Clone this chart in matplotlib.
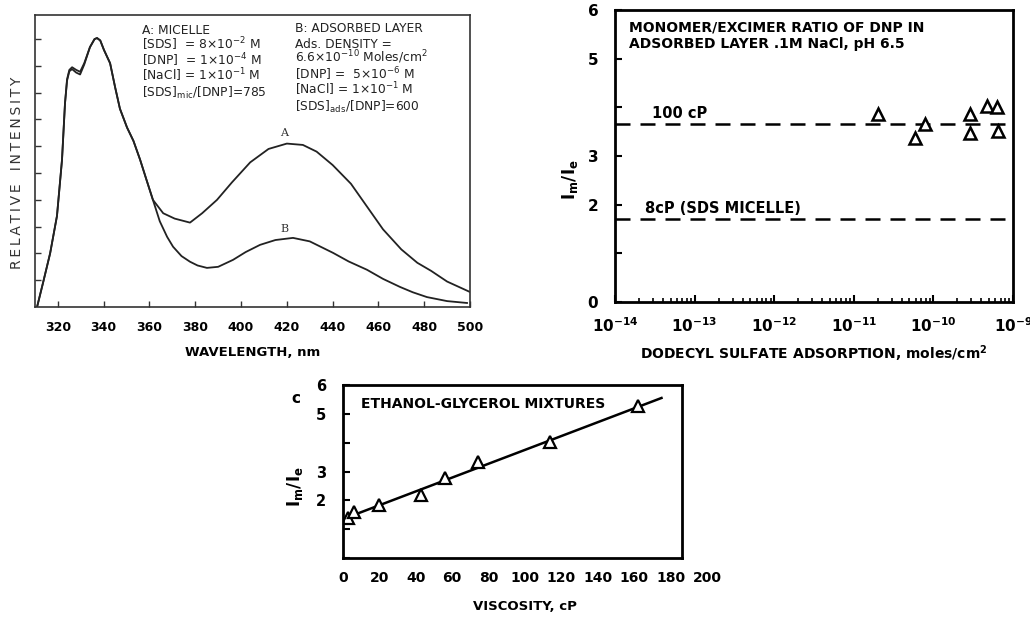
import matplotlib
matplotlib.use("Agg")
import matplotlib.pyplot as plt
from matplotlib.ticker import FixedLocator, LogLocator, NullFormatter
import numpy as np

plt.rcParams['font.family'] = ['DejaVu Sans']
plt.rcParams['mathtext.default'] = 'regular'

# ---------------- Panel A: spectra ----------------
wl_a = [310.9, 313.5, 316.6, 319.6, 321.8, 323.1, 324.0, 325.0, 326.2, 328.0, 329.7,
        331.5, 334.0, 336.0, 337.1, 338.5, 340.1, 342.8, 345.0, 347.1, 350.2, 353.0,
        355.9, 358.5, 361.5, 366.0, 371.0, 377.7, 383.0, 389.5, 396.0, 404.0, 412.0,
        420.0, 427.0, 433.0, 440.0, 448.0, 455.0, 462.0, 470.0, 477.0, 483.0, 490.0, 500.0]
int_a = [0.0, 0.9, 2.0, 3.4, 5.5, 7.6, 8.5, 8.85, 8.95, 8.85, 8.78,
         9.1, 9.7, 10.0, 10.04, 9.95, 9.6, 9.1, 8.2, 7.4, 6.7, 6.2,
         5.5, 4.8, 4.0, 3.5, 3.3, 3.15, 3.5, 4.0, 4.65, 5.4, 5.9,
         6.1, 6.05, 5.8, 5.3, 4.6, 3.75, 2.9, 2.15, 1.65, 1.35, 0.95, 0.56]
wl_b = [310.9, 313.5, 316.6, 319.6, 321.8, 323.1, 324.0, 325.0, 326.2, 328.0, 329.7,
        331.5, 334.0, 336.0, 337.1, 338.5, 340.1, 342.8, 345.0, 347.1, 350.2, 353.0,
        355.9, 358.5, 361.5, 364.5, 367.7, 370.3, 374.0, 377.7, 381.0, 385.1, 390.0,
        396.5, 402.0, 408.3, 415.0, 422.7, 430.0, 440.2, 447.0, 455.0, 462.0, 469.4,
        475.0, 481.2, 490.0, 498.7]
int_b = [0.0, 0.9, 2.0, 3.4, 5.5, 7.6, 8.45, 8.8, 8.88, 8.75, 8.68,
         9.05, 9.7, 10.0, 10.04, 9.95, 9.6, 9.1, 8.2, 7.4, 6.7, 6.2,
         5.5, 4.8, 4.0, 3.2, 2.62, 2.25, 1.9, 1.69, 1.55, 1.46, 1.5,
         1.76, 2.05, 2.32, 2.5, 2.58, 2.45, 2.02, 1.7, 1.39, 1.05, 0.75,
         0.55, 0.37, 0.22, 0.15]
xticks_a = [320, 340, 360, 380, 400, 420, 440, 460, 480, 500]
yticks_a = [1, 2, 3, 4, 5, 6, 7, 8, 9, 10]
legend_a = ['A: MICELLE',
            '[SDS]  = 8$\\times$10$^{-2}$ M',
            '[DNP]  = 1$\\times$10$^{-4}$ M',
            '[NaCl] = 1$\\times$10$^{-1}$ M',
            '[SDS]$_{mic}$/[DNP]=785']
legend_b = ['B: ADSORBED LAYER',
            'Ads. DENSITY =',
            '6.6$\\times$10$^{-10}$ Moles/cm$^2$',
            '[DNP] =  5$\\times$10$^{-6}$ M',
            '[NaCl] = 1$\\times$10$^{-1}$ M',
            '[SDS]$_{ads}$/[DNP]=600']

# ---------------- Panel B: adsorbed layer ----------------
ads_density = [2.0e-11, 5.9e-11, 7.8e-11, 2.9e-10, 2.9e-10, 4.7e-10, 6.3e-10, 6.5e-10]
ratio_ads = [3.86, 3.37, 3.65, 3.86, 3.47, 4.02, 4.0, 3.51]
ref_100cp = 3.65
ref_8cp = 1.71
yticks_b = [0, 1, 2, 3, 4, 5, 6]
ylabels_b = ['0', '', '2', '3', '', '5', '6']
xdecades_b = [1e-14, 1e-13, 1e-12, 1e-11, 1e-10, 1e-9]
xlabels_b = [r'$\mathbf{10^{-14}}$', r'$\mathbf{10^{-13}}$', r'$\mathbf{10^{-12}}$',
             r'$\mathbf{10^{-11}}$', r'$\mathbf{10^{-10}}$', r'$\mathbf{10^{-9}}$']

# ---------------- Panel C: viscosity ----------------
viscosity = [3, 6, 20, 43, 56, 74, 114, 162]
ratio_visc = [1.4, 1.6, 1.83, 2.2, 2.79, 3.34, 4.03, 5.28]
fit_x = [0, 175]
fit_y = [1.35, 5.55]
xticks_c = [0, 20, 40, 60, 80, 100, 120, 140, 160, 180, 200]
yticks_c = [0, 1, 2, 3, 4, 5, 6]
ylabels_c = ['', '', '2', '3', '', '5', '6']

W, H = 1030, 618
fig = plt.figure(figsize=(W / 100, H / 100), dpi=100)


def rect(l, r, t, b):
    return [l / W, 1 - b / H, (r - l) / W, (b - t) / H]


# ---- Panel A ----
axA = fig.add_axes(rect(35, 470, 15, 307))
axA.plot(wl_a, int_a, color='#222222', lw=1.3)
axA.plot(wl_b, int_b, color='#222222', lw=1.3)
axA.set_xlim(310, 500)
axA.set_ylim(0, 10.9)
axA.set_xticks(xticks_a)
axA.set_xticklabels([str(v) for v in xticks_a], fontweight='bold', fontsize=9)
axA.set_yticks(yticks_a)
axA.set_yticklabels([])
axA.tick_params(direction='in', length=4, width=1, pad=10, color='#333333')
for s in axA.spines.values():
    s.set_linewidth(1.2)
    s.set_color('#333333')
axA.set_xlabel('WAVELENGTH, nm', fontweight='bold', fontsize=9.5, labelpad=9)
thin = '\u2009'
axA.set_ylabel(thin.join('RELATIVE') + '   ' + thin.join('INTENSITY'), fontsize=10,
               color='#333333')
axA.yaxis.set_label_coords(-0.025, 0.46)
axA.text(419, 6.5, 'A', fontsize=8, family='DejaVu Serif', ha='center', va='center',
         color='#333333')
axA.text(419, 2.92, 'B', fontsize=8, family='DejaVu Serif', ha='center', va='center',
         color='#333333')
for line, yy in zip(legend_a, [0.935, 0.882, 0.829, 0.776, 0.719]):
    axA.text(0.246, yy, line, transform=axA.transAxes, fontsize=8.8, va='baseline',
             ha='left', color='#222222')
for line, yy in zip(legend_b, [0.942, 0.887, 0.839, 0.781, 0.729, 0.671]):
    axA.text(0.598, yy, line, transform=axA.transAxes, fontsize=8.8, va='baseline',
             ha='left', color='#222222')

# ---- Panel B ----
axB = fig.add_axes(rect(615, 1013, 10, 302))
axB.set_xscale('log')
axB.set_xlim(1e-14, 1e-9)
axB.set_ylim(0, 6)
axB.axhline(ref_100cp, color='black', lw=1.8, dashes=(6, 4))
axB.axhline(ref_8cp, color='black', lw=1.8, dashes=(6, 4))
axB.plot(ads_density, ratio_ads, linestyle='none', marker='^', markersize=9,
         markerfacecolor='white', markeredgecolor='black', markeredgewidth=1.8)
axB.xaxis.set_major_locator(FixedLocator(xdecades_b))
axB.set_xticklabels(xlabels_b, fontsize=11)
axB.xaxis.set_minor_locator(LogLocator(base=10, subs=np.arange(2, 10), numticks=20))
axB.xaxis.set_minor_formatter(NullFormatter())
axB.set_yticks(yticks_b)
axB.set_yticklabels(ylabels_b, fontweight='bold', fontsize=11)
axB.tick_params(axis='x', which='major', direction='in', length=5, width=1.5, pad=10)
axB.tick_params(axis='x', which='minor', direction='in', length=3, width=1.2)
axB.tick_params(axis='y', direction='in', length=5, width=1.5, pad=12)
for s in axB.spines.values():
    s.set_linewidth(2)
axB.text(2.9e-14, 3.78, '100 cP', fontweight='bold', fontsize=10.5)
axB.text(2.4e-14, 1.83, '8cP (SDS MICELLE)', fontweight='bold', fontsize=10.5)
axB.text(0.035, 0.965, 'MONOMER/EXCIMER RATIO OF DNP IN\nADSORBED LAYER .1M NaCl, pH 6.5',
         transform=axB.transAxes, fontweight='bold', fontsize=10, va='top', ha='left',
         linespacing=1.25)
axB.set_xlabel('DODECYL SULFATE ADSORPTION, moles/cm$^{\\mathbf{2}}$', fontweight='bold',
               fontsize=10, labelpad=6)
axB.set_ylabel(r'$\mathbf{I_m/I_e}$', fontsize=12)
axB.yaxis.set_label_coords(-0.088, 0.42)

# ---- Panel C ----
axC = fig.add_axes(rect(343, 707, 385, 558))
axC.plot(fit_x, fit_y, color='black', lw=1.8)
axC.plot(viscosity, ratio_visc, linestyle='none', marker='^', markersize=9,
         markerfacecolor='white', markeredgecolor='black', markeredgewidth=1.6)
axC.set_xlim(0, 200)
axC.set_ylim(0, 6)
axC.spines['right'].set_position(('data', 186))
axC.spines['top'].set_bounds(0, 186)
axC.spines['bottom'].set_bounds(0, 186)
for s in axC.spines.values():
    s.set_linewidth(2)
axC.set_xticks(xticks_c)
axC.set_xticklabels([str(v) for v in xticks_c], fontweight='bold', fontsize=10)
axC.xaxis.set_minor_locator(FixedLocator(xticks_c[1:-1]))
axC.tick_params(axis='x', which='major', length=0, pad=9)
axC.tick_params(axis='x', which='minor', direction='in', length=4, width=1.5)
axC.set_yticks(yticks_c)
axC.set_yticklabels(ylabels_c, fontweight='bold', fontsize=10.5)
axC.tick_params(axis='y', direction='in', length=5, width=1.5, pad=12)
axC.text(0.05, 0.93, 'ETHANOL-GLYCEROL MIXTURES', transform=axC.transAxes,
         fontweight='bold', fontsize=10, va='top', ha='left')
axC.set_xlabel('VISCOSITY, cP', fontweight='bold', fontsize=9.5, labelpad=11)
axC.set_ylabel(r'$\mathbf{I_m/I_e}$', fontsize=12)
axC.yaxis.set_label_coords(-0.104, 0.41)
axC.text(-0.13, 0.92, 'c', transform=axC.transAxes, fontweight='bold', fontsize=11,
         ha='center', va='center')

fig.savefig('out.png', dpi=100)
